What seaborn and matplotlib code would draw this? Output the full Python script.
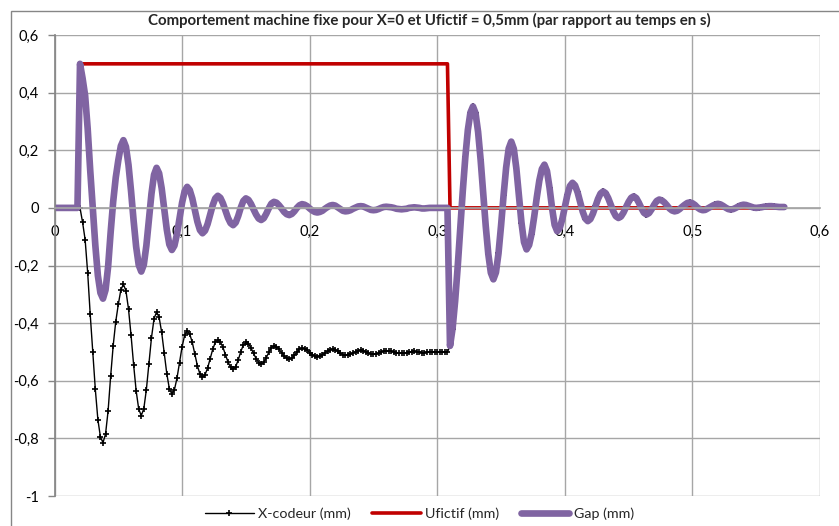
import numpy as np
import pandas as pd
import matplotlib
matplotlib.use("Agg")
import matplotlib.pyplot as plt
from matplotlib.patches import Rectangle
from matplotlib.ticker import FuncFormatter, MultipleLocator
import seaborn as sns

# sampling of the recorded signals (s)
time_step = 0.002
n_samples = 287

# X-codeur (mm): at rest until the step at t=0.02 s
x_codeur_rest = [0.0] * 11
# response to Ufictif = 0.5 mm (t = 0.022 .. 0.308 s)
x_codeur_step_on = [
    -0.050, -0.110, -0.225, -0.370, -0.500, -0.630, -0.735, -0.795, -0.815,
    -0.785, -0.705, -0.585, -0.478, -0.395, -0.335, -0.285, -0.265,
    -0.288, -0.351, -0.442, -0.544, -0.635, -0.698, -0.721,
    -0.697, -0.631, -0.541, -0.451, -0.385, -0.361,
    -0.380, -0.432, -0.504, -0.575, -0.627, -0.646,
    -0.631, -0.591, -0.537, -0.482, -0.442, -0.427,
    -0.438, -0.467, -0.508, -0.548, -0.577, -0.588,
    -0.579, -0.556, -0.523, -0.491, -0.467, -0.458,
    -0.465, -0.484, -0.509, -0.535, -0.553, -0.560,
    -0.551, -0.528, -0.499, -0.476, -0.467,
    -0.472, -0.486, -0.505, -0.523, -0.537, -0.542,
    -0.536, -0.520, -0.501, -0.485, -0.479,
    -0.482, -0.491, -0.502, -0.514, -0.522, -0.525,
    -0.521, -0.512, -0.500, -0.491, -0.487,
    -0.489, -0.494, -0.502, -0.509, -0.514, -0.516,
    -0.514, -0.510, -0.503, -0.497, -0.492, -0.490,
    -0.492, -0.498, -0.504, -0.510, -0.512,
    -0.511, -0.508, -0.503, -0.499, -0.495, -0.494,
    -0.495, -0.499, -0.503, -0.507, -0.508,
    -0.507, -0.504, -0.500, -0.497, -0.496,
    -0.497, -0.498, -0.500, -0.503, -0.504, -0.505,
    -0.504, -0.503, -0.500, -0.499, -0.498,
    -0.499, -0.500, -0.502, -0.502, -0.501, -0.500,
    -0.500, -0.500, -0.500, -0.500, -0.500, -0.500, -0.500,
]
# response after Ufictif goes back to 0 (t = 0.310 .. 0.572 s)
x_codeur_step_off = [
    -0.479, -0.419, -0.324, -0.206, -0.074, 0.058, 0.176, 0.271, 0.331, 0.352,
    0.329, 0.264, 0.167, 0.052, -0.063, -0.160, -0.225, -0.248,
    -0.224, -0.158, -0.062, 0.044, 0.140, 0.206, 0.230,
    0.205, 0.137, 0.043, -0.051, -0.119, -0.144,
    -0.129, -0.089, -0.030, 0.036, 0.095, 0.135, 0.150,
    0.128, 0.070, -0.001, -0.059, -0.081,
    -0.070, -0.039, 0.003, 0.045, 0.076, 0.087,
    0.078, 0.054, 0.021, -0.013, -0.037, -0.046,
    -0.039, -0.020, 0.006, 0.031, 0.050, 0.057,
    0.051, 0.034, 0.011, -0.012, -0.029, -0.035,
    -0.030, -0.016, 0.003, 0.021, 0.035, 0.040,
    0.034, 0.018, -0.001, -0.017, -0.023,
    -0.018, -0.005, 0.011, 0.024, 0.029,
    0.026, 0.019, 0.009, -0.002, -0.009, -0.012,
    -0.010, -0.004, 0.004, 0.011, 0.017, 0.019,
    0.016, 0.010, 0.001, -0.005, -0.008,
    -0.007, -0.002, 0.003, 0.008, 0.012, 0.014,
    0.012, 0.007, 0.001, -0.004, -0.006,
    -0.004, 0.000, 0.005, 0.009, 0.011,
    0.010, 0.007, 0.004, 0.001, 0.000,
    0.001, 0.002, 0.004, 0.005, 0.006,
    0.006, 0.005, 0.004, 0.003, 0.003, 0.003,
]

# Ufictif (mm): 0.5 mm between 0.02 s and 0.308 s
ufictif = [0.0] * 10 + [0.5] * 145 + [0.0] * 132

x_codeur = x_codeur_rest + x_codeur_step_on + x_codeur_step_off
t = np.round(np.arange(n_samples) * time_step, 3)

df = pd.DataFrame({"t": t, "x_codeur": x_codeur, "ufictif": ufictif})
# gap = Ufictif + X-codeur
df["gap"] = df["ufictif"] + df["x_codeur"]

sns.set_theme(style="white")
plt.rcParams["font.family"] = ["Lato", "DejaVu Sans"]

fig = plt.figure(figsize=(8.39, 5.26), dpi=100)
ax = fig.add_axes([0.06496, 0.05703, 0.9124, 0.8764])

sns.lineplot(data=df, x="t", y="x_codeur", ax=ax, color="black", lw=1.0,
             marker="+", markersize=5, markeredgewidth=1.2,
             markeredgecolor="black", label="X-codeur (mm)")
sns.lineplot(data=df, x="t", y="ufictif", ax=ax, color="#C00000", lw=2.6,
             label="Ufictif (mm)")
sns.lineplot(data=df, x="t", y="gap", ax=ax, color="#8064A2", lw=4.8,
             solid_capstyle="round", solid_joinstyle="round", label="Gap (mm)")

grid_color = "#a6a6a6"
ax.set_xlim(0, 0.6)
ax.set_ylim(-1, 0.6)
ax.xaxis.set_major_locator(MultipleLocator(0.1))
ax.yaxis.set_major_locator(MultipleLocator(0.2))
fmt = FuncFormatter(lambda v, p: f"{round(v, 1):g}".replace(".", ","))
ax.xaxis.set_major_formatter(fmt)
ax.yaxis.set_major_formatter(fmt)
ax.grid(True, color=grid_color, lw=1.0)
ax.set_axisbelow(True)
ax.set_xlabel("")
ax.set_ylabel("")

for s in ["top", "right"]:
    ax.spines[s].set_visible(False)
ax.spines["left"].set_color("#868686")
ax.spines["bottom"].set_color(grid_color)
ax.spines["bottom"].set_position(("data", 0))
ax.tick_params(axis="y", left=True, length=5, width=1, color="#868686",
               pad=6, labelsize=10.5, labelcolor="black")
ax.tick_params(axis="x", bottom=True, length=0, pad=12.5,
               labelsize=10.5, labelcolor="black")

ax.set_title("Comportement machine fixe pour X=0 et Ufictif = 0,5mm (par rapport au temps en s)",
             fontsize=10.8, fontweight="bold", x=0.489, y=1.0, pad=7)

handles, labels = ax.get_legend_handles_labels()
ax.get_legend().remove()
fig.legend(handles, labels, loc="center", bbox_to_anchor=(0.5, 0.0228),
           ncol=3, frameon=False, fontsize=10.3, handlelength=3.4,
           handletextpad=0.3, columnspacing=1.5)

# chart area border
fig.add_artist(Rectangle((10.5 / 839, -0.5), 2, 1.5 - 10.5 / 526,
                         transform=fig.transFigure, fill=False,
                         edgecolor="#868686", lw=1.0))

fig.savefig("out.png", dpi=100)
